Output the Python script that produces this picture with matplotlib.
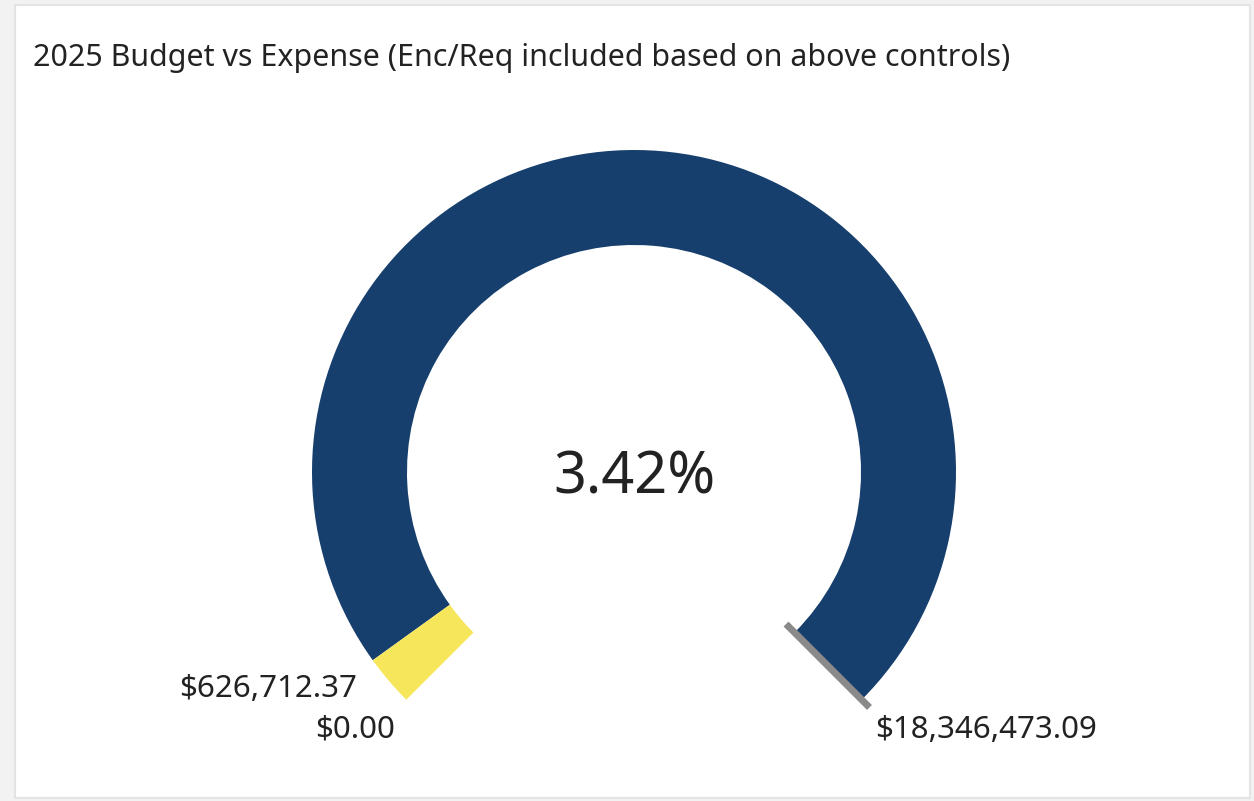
import matplotlib
matplotlib.use("Agg")
import matplotlib.pyplot as plt
from matplotlib.patches import Wedge, Rectangle
import numpy as np

# gauge values
title = "2025 Budget vs Expense (Enc/Req included based on above controls)"
min_value = 0.00
actual_value = 626712.37
max_value = 18346473.09

plt.rcParams['font.family'] = ['Noto Sans', 'DejaVu Sans']

W, H = 1254, 801
fig = plt.figure(figsize=(W / 100, H / 100), dpi=100)
fig.patch.set_facecolor('#f2f2f2')
ax = fig.add_axes([0, 0, 1, 1])
ax.set_xlim(0, W)
ax.set_ylim(0, H)
ax.axis('off')

# white panel with light border
ax.add_patch(Rectangle((15, 3), 1235, 793, facecolor='white', edgecolor='#e3e3e3', lw=1.5))

ax.text(33, H - 66, title, fontsize=21.9, color='#222222', ha='left', va='baseline')

# gauge geometry
cx, cy = 634, H - 472
r_out, ring = 322, 95
start, sweep = 225, 270
frac = (actual_value - min_value) / (max_value - min_value)
split = start - sweep * frac
end = start - sweep

ax.add_patch(Wedge((cx, cy), r_out, end, split, width=ring, facecolor='#173f6d', edgecolor='none'))
ax.add_patch(Wedge((cx, cy), r_out, split, start, width=ring, facecolor='#f6e65c', edgecolor='none'))

# target marker at the max end
a = np.radians(end)
ax.plot([cx + 215 * np.cos(a), cx + 333 * np.cos(a)],
        [cy + 215 * np.sin(a), cy + 333 * np.sin(a)],
        color='#8a8a8a', lw=5, solid_capstyle='butt')

ax.text(cx + 1, cy - 22, f"{frac * 100:.2f}%", fontsize=41.5, color='#222222', ha='center', va='baseline')

ax.text(395, H - 738, f"${min_value:,.2f}", fontsize=22.5, color='#222222', ha='right', va='baseline')
ax.text(357, H - 697, f"${actual_value:,.2f}", fontsize=22.5, color='#222222', ha='right', va='baseline')
ax.text(875, H - 738, f"${max_value:,.2f}", fontsize=22.5, color='#222222', ha='left', va='baseline')

fig.savefig('out.png', dpi=100, facecolor=fig.get_facecolor())
